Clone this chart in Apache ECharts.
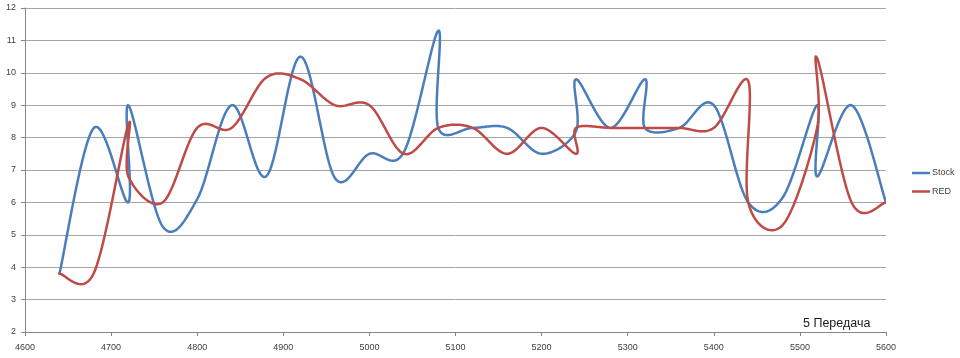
<!DOCTYPE html>
<html>
<head>
<meta charset="utf-8">
<script src="https://cdn.jsdelivr.net/npm/echarts@6/dist/echarts.min.js"></script>
<style>
html,body{margin:0;padding:0;background:#fff;}
#chart{width:960px;height:358px;}
</style>
</head>
<body>
<div id="chart"></div>
<script>
// Stock series (rpm, value)
var stockRpm = [4640,4680,4720,4720,4760,4800,4840,4880,4920,4960,5000,5040,5080,5080,5120,5160,5200,5240,5240,5280,5320,5320,5360,5400,5440,5480,5520,5520,5560,5600];
var stockVal = [3.8,8.3,6.0,9.0,5.25,6.1,9.0,6.8,10.5,6.75,7.5,7.55,11.3,8.3,8.3,8.3,7.5,8.2,9.8,8.3,9.8,8.3,8.3,9.0,6.0,6.15,9.0,6.8,9.0,6.0];
// RED series (rpm, value)
var redRpm = [4640,4680,4720,4720,4760,4800,4840,4880,4920,4960,5000,5040,5080,5120,5160,5200,5240,5240,5280,5320,5360,5400,5440,5440,5480,5520,5520,5560,5600];
var redVal = [3.8,3.82,8.4,6.8,6.0,8.3,8.3,9.85,9.8,9.0,9.0,7.5,8.3,8.3,7.5,8.3,7.5,8.3,8.3,8.3,8.3,8.3,9.75,6.0,5.3,8.3,10.45,6.0,6.0];
var seriesNames = ['Stock', 'RED'];
var seriesColors = ['#4a7ebb', '#be4b48'];
var caption = '5 Передача';

var seriesRpm = [stockRpm, redRpm];
var seriesVal = [stockVal, redVal];

function pairs(xs, ys) {
  var out = [];
  for (var i = 0; i < xs.length; i++) out.push([xs[i], ys[i]]);
  return out;
}

// Excel-like smoothed line (Catmull-Rom through each point), in pixel space
function smoothPoints(pts) {
  var out = [], steps = 24, n = pts.length;
  out.push(pts[0]);
  for (var i = 0; i < n - 1; i++) {
    var p0 = pts[i > 0 ? i - 1 : i], p1 = pts[i], p2 = pts[i + 1], p3 = pts[i + 2 < n ? i + 2 : i + 1];
    var c1 = [p1[0] + (p2[0] - p0[0]) / 6, p1[1] + (p2[1] - p0[1]) / 6];
    var c2 = [p2[0] - (p3[0] - p1[0]) / 6, p2[1] - (p3[1] - p1[1]) / 6];
    for (var s = 1; s <= steps; s++) {
      var t = s / steps, u = 1 - t;
      var a = u * u * u, b = 3 * u * u * t, c = 3 * u * t * t, d = t * t * t;
      out.push([a * p1[0] + b * c1[0] + c * c2[0] + d * p2[0],
                a * p1[1] + b * c1[1] + c * c2[1] + d * p2[1]]);
    }
  }
  return out;
}

function makeRender(idx) {
  return function (params, api) {
    if (params.dataIndex !== 0) return null;
    var xs = seriesRpm[idx], ys = seriesVal[idx], pts = [];
    for (var i = 0; i < xs.length; i++) pts.push(api.coord([xs[i], ys[i]]));
    return {
      type: 'polyline',
      shape: {points: smoothPoints(pts)},
      style: {stroke: seriesColors[idx], fill: null, lineWidth: 2.5, lineJoin: 'round', lineCap: 'round'},
      silent: true
    };
  };
}

var chart = echarts.init(document.getElementById('chart'), null, {renderer: 'canvas'});
var labelStyle = {color: '#404040', fontSize: 9, fontFamily: 'Liberation Sans, Arial, sans-serif'};
chart.setOption({
  animation: false,
  backgroundColor: '#ffffff',
  grid: {left: 25, right: 74, top: 8, bottom: 26, containLabel: false},
  xAxis: {
    type: 'value', min: 4600, max: 5600, interval: 100,
    axisLine: {show: true, lineStyle: {color: '#868686', width: 1}},
    axisTick: {show: true, length: 4, lineStyle: {color: '#868686'}},
    axisLabel: Object.assign({margin: 11, formatter: function (v) { return String(v); }}, labelStyle),
    splitLine: {show: false}
  },
  yAxis: {
    type: 'value', min: 2, max: 12, interval: 1,
    axisLine: {show: true, lineStyle: {color: '#868686', width: 1}},
    axisTick: {show: true, length: 4, lineStyle: {color: '#868686'}},
    axisLabel: Object.assign({margin: 9}, labelStyle),
    splitLine: {show: true, lineStyle: {color: '#a6a6a6', width: 1}}
  },
  legend: {
    orient: 'vertical', left: 912, top: 168.5, padding: 0, itemGap: 9.5,
    itemWidth: 18, itemHeight: 2.5,
    textStyle: {color: '#404040', fontSize: 9, fontFamily: 'Liberation Sans, Arial, sans-serif', padding: [0,0,0,-3]},
    data: [
      {name: seriesNames[0], icon: 'rect', itemStyle: {color: seriesColors[0]}},
      {name: seriesNames[1], icon: 'rect', itemStyle: {color: seriesColors[1]}}
    ]
  },
  graphic: [{
    type: 'text', left: 803, top: 317,
    style: {text: caption, fontSize: 12.5, fill: '#1a1a1a', fontFamily: 'Liberation Sans, Arial, sans-serif'}
  }],
  series: [
    {
      name: seriesNames[0], type: 'custom', coordinateSystem: 'cartesian2d',
      data: pairs(stockRpm, stockVal), renderItem: makeRender(0), clip: true,
      itemStyle: {color: seriesColors[0]}, encode: {x: 0, y: 1}
    },
    {
      name: seriesNames[1], type: 'custom', coordinateSystem: 'cartesian2d',
      data: pairs(redRpm, redVal), renderItem: makeRender(1), clip: true,
      itemStyle: {color: seriesColors[1]}, encode: {x: 0, y: 1}
    }
  ]
});
</script>
</body>
</html>
